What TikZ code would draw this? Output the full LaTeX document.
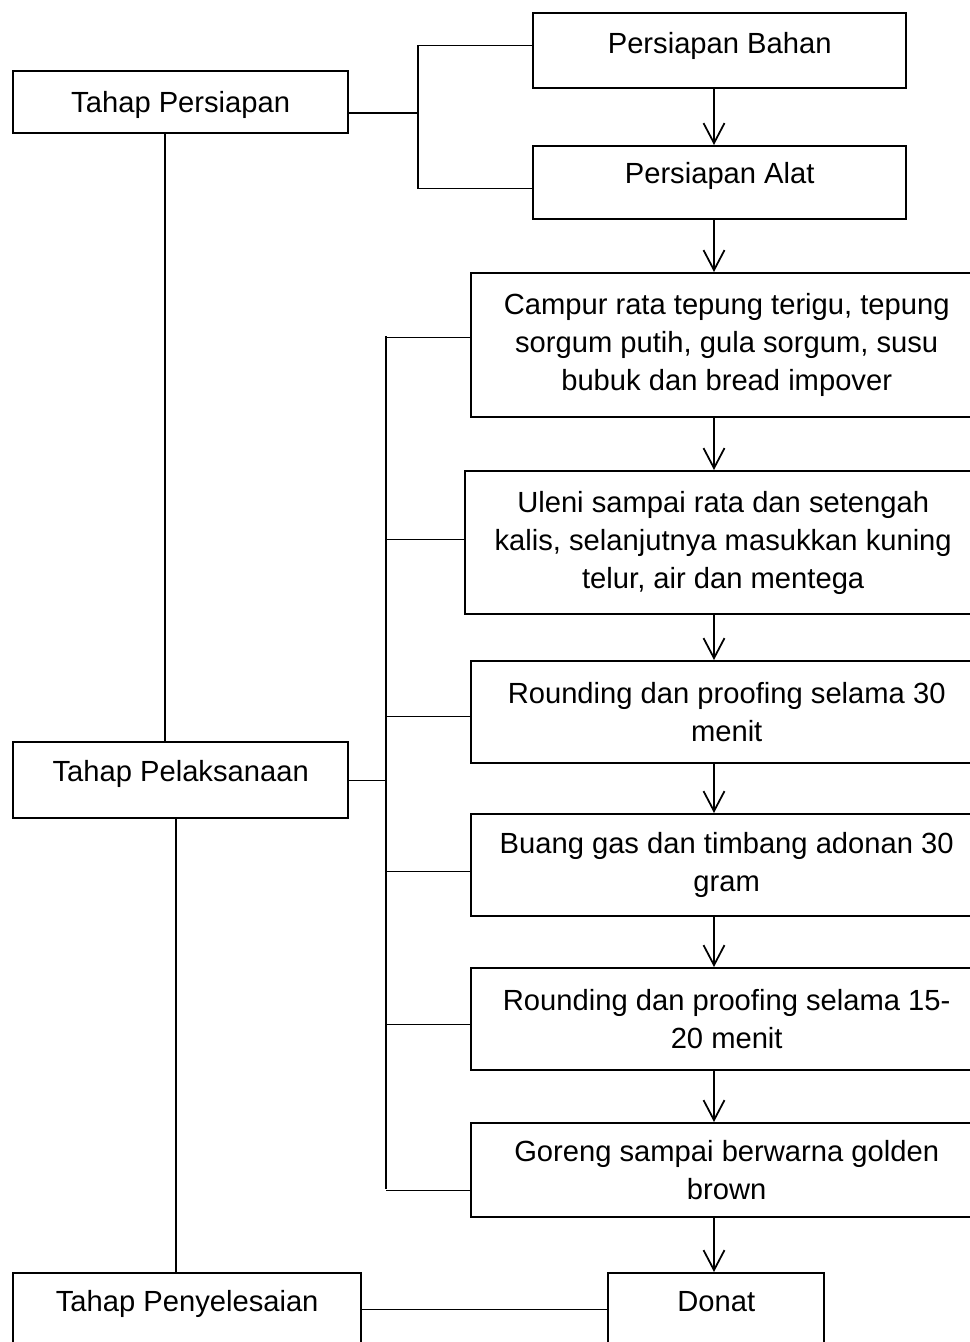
\documentclass[tikz,border=0pt]{standalone}
\usepackage{fontspec}
\setmainfont{Liberation Sans}
\usetikzlibrary{arrows.meta, positioning, calc}

\begin{document}
\begin{tikzpicture}[x=0.02cm, y=-0.02cm,
    box/.style={rectangle, draw, line width=1.4pt, anchor=north west, align=center, inner sep=0pt,
        font=\fontsize{16.6}{21.5}\selectfont},
    link/.style={line width=0.75pt},
    flow/.style={-{Straight Barb[length=0.4cm, width=0.42cm, line width=1pt]}, line width=1pt}]
    \useasboundingbox (0,0) rectangle (970,1342);

    % Nodes
    \node [box, minimum width=6.7cm, minimum height=1.24cm, text height=0.54cm] (persiapan) at (12,70) {Tahap Persiapan};
    \node [box, minimum width=7.46cm, minimum height=1.5cm, text depth=0.3cm] (bahan) at (532,12) {Persiapan Bahan};
    \node [box, minimum width=7.46cm, minimum height=1.46cm, text depth=0.38cm] (alat) at (532,145) {Persiapan Alat};
    \node [box, minimum width=10.22cm, minimum height=2.88cm] (campur) at (470,272) {Campur rata tepung terigu, tepung\\sorgum putih, gula sorgum, susu\\bubuk dan bread impover};
    \node [box, minimum width=10.32cm, minimum height=2.86cm] (uleni) at (464,470) {Uleni sampai rata dan setengah\\kalis, selanjutnya masukkan kuning\\telur, air dan mentega};
    \node [box, minimum width=10.22cm, minimum height=2.04cm] (rounding) at (470,660) {Rounding dan proofing selama 30\\menit};
    \node [box, minimum width=10.22cm, minimum height=2.04cm] (buang) at (470,813) {Buang gas dan timbang adonan 30\\gram};
    \node [box, minimum width=10.22cm, minimum height=2.04cm] (roundingb) at (470,967) {Rounding dan proofing selama 15-\\20 menit};
    \node [box, minimum width=10.22cm, minimum height=1.88cm] (goreng) at (470,1122) {Goreng sampai berwarna golden\\brown};
    \node [box, minimum width=6.7cm, minimum height=1.52cm, text depth=0.36cm] (pelaksanaan) at (12,741) {Tahap Pelaksanaan};
    \node [box, minimum width=6.96cm, minimum height=1.46cm, text depth=0.34cm] (penyelesaian) at (12,1272) {Tahap Penyelesaian};
    \node [box, minimum width=4.32cm, minimum height=1.46cm, text depth=0.34cm] (donat) at (607,1272) {Donat};

    \coordinate (ax) at (714,0);
    \coordinate (brA) at (418,113);
    \coordinate (spT) at (386,336);
    \coordinate (spB) at (386,1189);
    \coordinate (vxA) at (165,0);
    \coordinate (vxB) at (176,0);

    % Edges
    \draw [flow] (bahan.south -| ax) -- (alat.north -| ax);
    \draw [flow] (alat.south -| ax) -- (campur.north -| ax);
    \draw [flow] (campur.south -| ax) -- (uleni.north -| ax);
    \draw [flow] (uleni.south -| ax) -- (rounding.north -| ax);
    \draw [flow] (rounding.south -| ax) -- (buang.north -| ax);
    \draw [flow] (buang.south -| ax) -- (roundingb.north -| ax);
    \draw [flow] (roundingb.south -| ax) -- (goreng.north -| ax);
    \draw [flow] (goreng.south -| ax) -- (donat.north -| ax);

    \draw [link] (persiapan.east |- brA) -- (brA);
    \draw [link] ([yshift=0.11cm]bahan.west) -| (brA) |- ([yshift=-0.11cm]alat.west);

    \draw [link] (spT) -- (spB);
    \draw [link] (pelaksanaan.east) -- (pelaksanaan.east -| spT);
    \foreach \n/\s in {campur/0.16, uleni/0.07, rounding/-0.08, buang/-0.12, roundingb/-0.1, goreng/-0.4} {
        \coordinate (pin) at ([yshift=\s cm]\n.west);
        \draw [link] (pin) -- (pin -| spT);
    }

    \draw [link] (persiapan.south -| vxA) -- (pelaksanaan.north -| vxA);
    \draw [link] (pelaksanaan.south -| vxB) -- (penyelesaian.north -| vxB);
    \draw [link] (penyelesaian.east) -- (donat.west);
\end{tikzpicture}
\end{document}
